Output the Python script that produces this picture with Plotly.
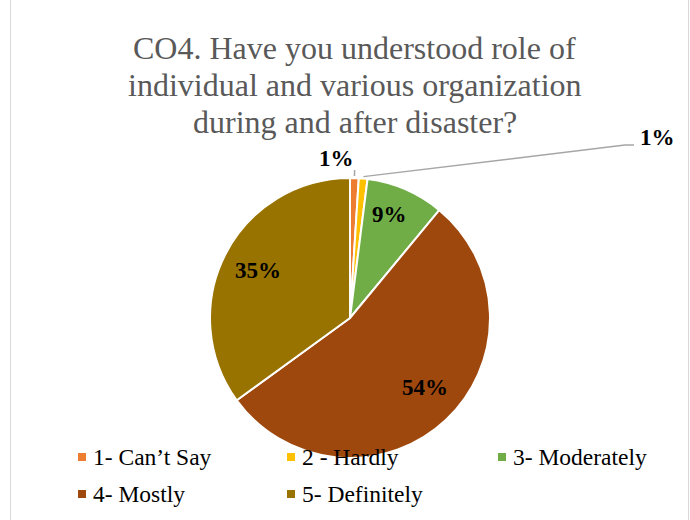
import math
import plotly.graph_objects as go

# Survey responses (percent of respondents)
categories = ["1- Can\u2019t Say", "2 - Hardly", "3- Moderately", "4- Mostly", "5- Definitely"]
percents = [1, 1, 9, 54, 35]
colors = ["#ED7D31", "#FFC000", "#70AD47", "#9E480E", "#997300"]
title_lines = ["CO4. Have you understood role of",
               "individual and various organization",
               "during and after disaster?"]

W, H = 690, 520
cx, cy, R = 350, 318, 140          # pie centre and radius, px
SERIF = "Liberation Serif"
LEADER = "#A6A6A6"

# data-label centres (px)
label_pos = [(336, 158), (657, 138), (390, 214), (425, 387), (258, 270)]
# legend layout: three columns, two rows (px)
legend_cols = [82, 291, 502]
legend_rows = [457, 494]


def to_paper(px, py):
    return px / W, 1 - py / H


def slice_point(idx, r):
    total = sum(percents)
    mid = (sum(percents[:idx]) + percents[idx] / 2) / total * 2 * math.pi
    return cx + r * math.sin(mid), cy - r * math.cos(mid)


fig = go.Figure()
fig.add_trace(go.Pie(
    labels=categories, values=percents,
    marker=dict(colors=colors, line=dict(color="white", width=2)),
    sort=False, direction="clockwise", rotation=0, textinfo="none",
    hoverinfo="label+percent",
    domain=dict(x=[(cx - R) / W, (cx + R) / W], y=[1 - (cy + R) / H, 1 - (cy - R) / H]),
    showlegend=False,
))

annotations = []
shapes = []

# title, one annotation per line
for k, line in enumerate(title_lines):
    x, y = to_paper(355, 68 + 37 * k)
    annotations.append(dict(x=x, y=y, xref="paper", yref="paper", xanchor="center", yanchor="bottom",
                            showarrow=False, text=line,
                            font=dict(family=SERIF, size=32, color="#595959")))

# percentage labels
for i, (px, py) in enumerate(label_pos):
    x, y = to_paper(px, py)
    annotations.append(dict(x=x, y=y, xref="paper", yref="paper", xanchor="center", yanchor="middle",
                            showarrow=False, text=f"<b>{percents[i]}%</b>",
                            font=dict(family=SERIF, size=23, color="black")))

# leader lines for the two thin slices
a = slice_point(0, 142)
b = slice_point(0, 148)
shapes.append(dict(type="line", xref="paper", yref="paper",
                   x0=to_paper(*a)[0], y0=to_paper(*a)[1], x1=to_paper(*b)[0], y1=to_paper(*b)[1],
                   line=dict(color=LEADER, width=1.5)))
start = slice_point(1, 142)
path_pts = [start, (625, 145), (634, 145)]
for p, q in zip(path_pts[:-1], path_pts[1:]):
    shapes.append(dict(type="line", xref="paper", yref="paper",
                       x0=to_paper(*p)[0], y0=to_paper(*p)[1], x1=to_paper(*q)[0], y1=to_paper(*q)[1],
                       line=dict(color=LEADER, width=1.5)))

# legend: colour squares with category names
for i, (name, col) in enumerate(zip(categories, colors)):
    mx = legend_cols[i % 3]
    my = legend_rows[i // 3]
    x0, y0 = to_paper(mx - 4, my + 4)
    x1, y1 = to_paper(mx + 4, my - 4)
    shapes.append(dict(type="rect", xref="paper", yref="paper", x0=x0, y0=y0, x1=x1, y1=y1,
                       fillcolor=col, line=dict(width=0)))
    tx, ty = to_paper(mx + 9, my)
    annotations.append(dict(x=tx, y=ty, xref="paper", yref="paper", xanchor="left", yanchor="middle",
                            showarrow=False, text=name,
                            font=dict(family=SERIF, size=23.5, color="black")))

# chart frame
for fx in (10.5, 688.5):
    shapes.append(dict(type="line", xref="paper", yref="paper", x0=fx / W, x1=fx / W, y0=0, y1=1,
                       line=dict(color="#D9D9D9", width=1)))

fig.update_layout(width=W, height=H, margin=dict(l=0, r=0, t=0, b=0),
                  paper_bgcolor="white", plot_bgcolor="white",
                  annotations=annotations, shapes=shapes)
fig.write_html("out.html")
